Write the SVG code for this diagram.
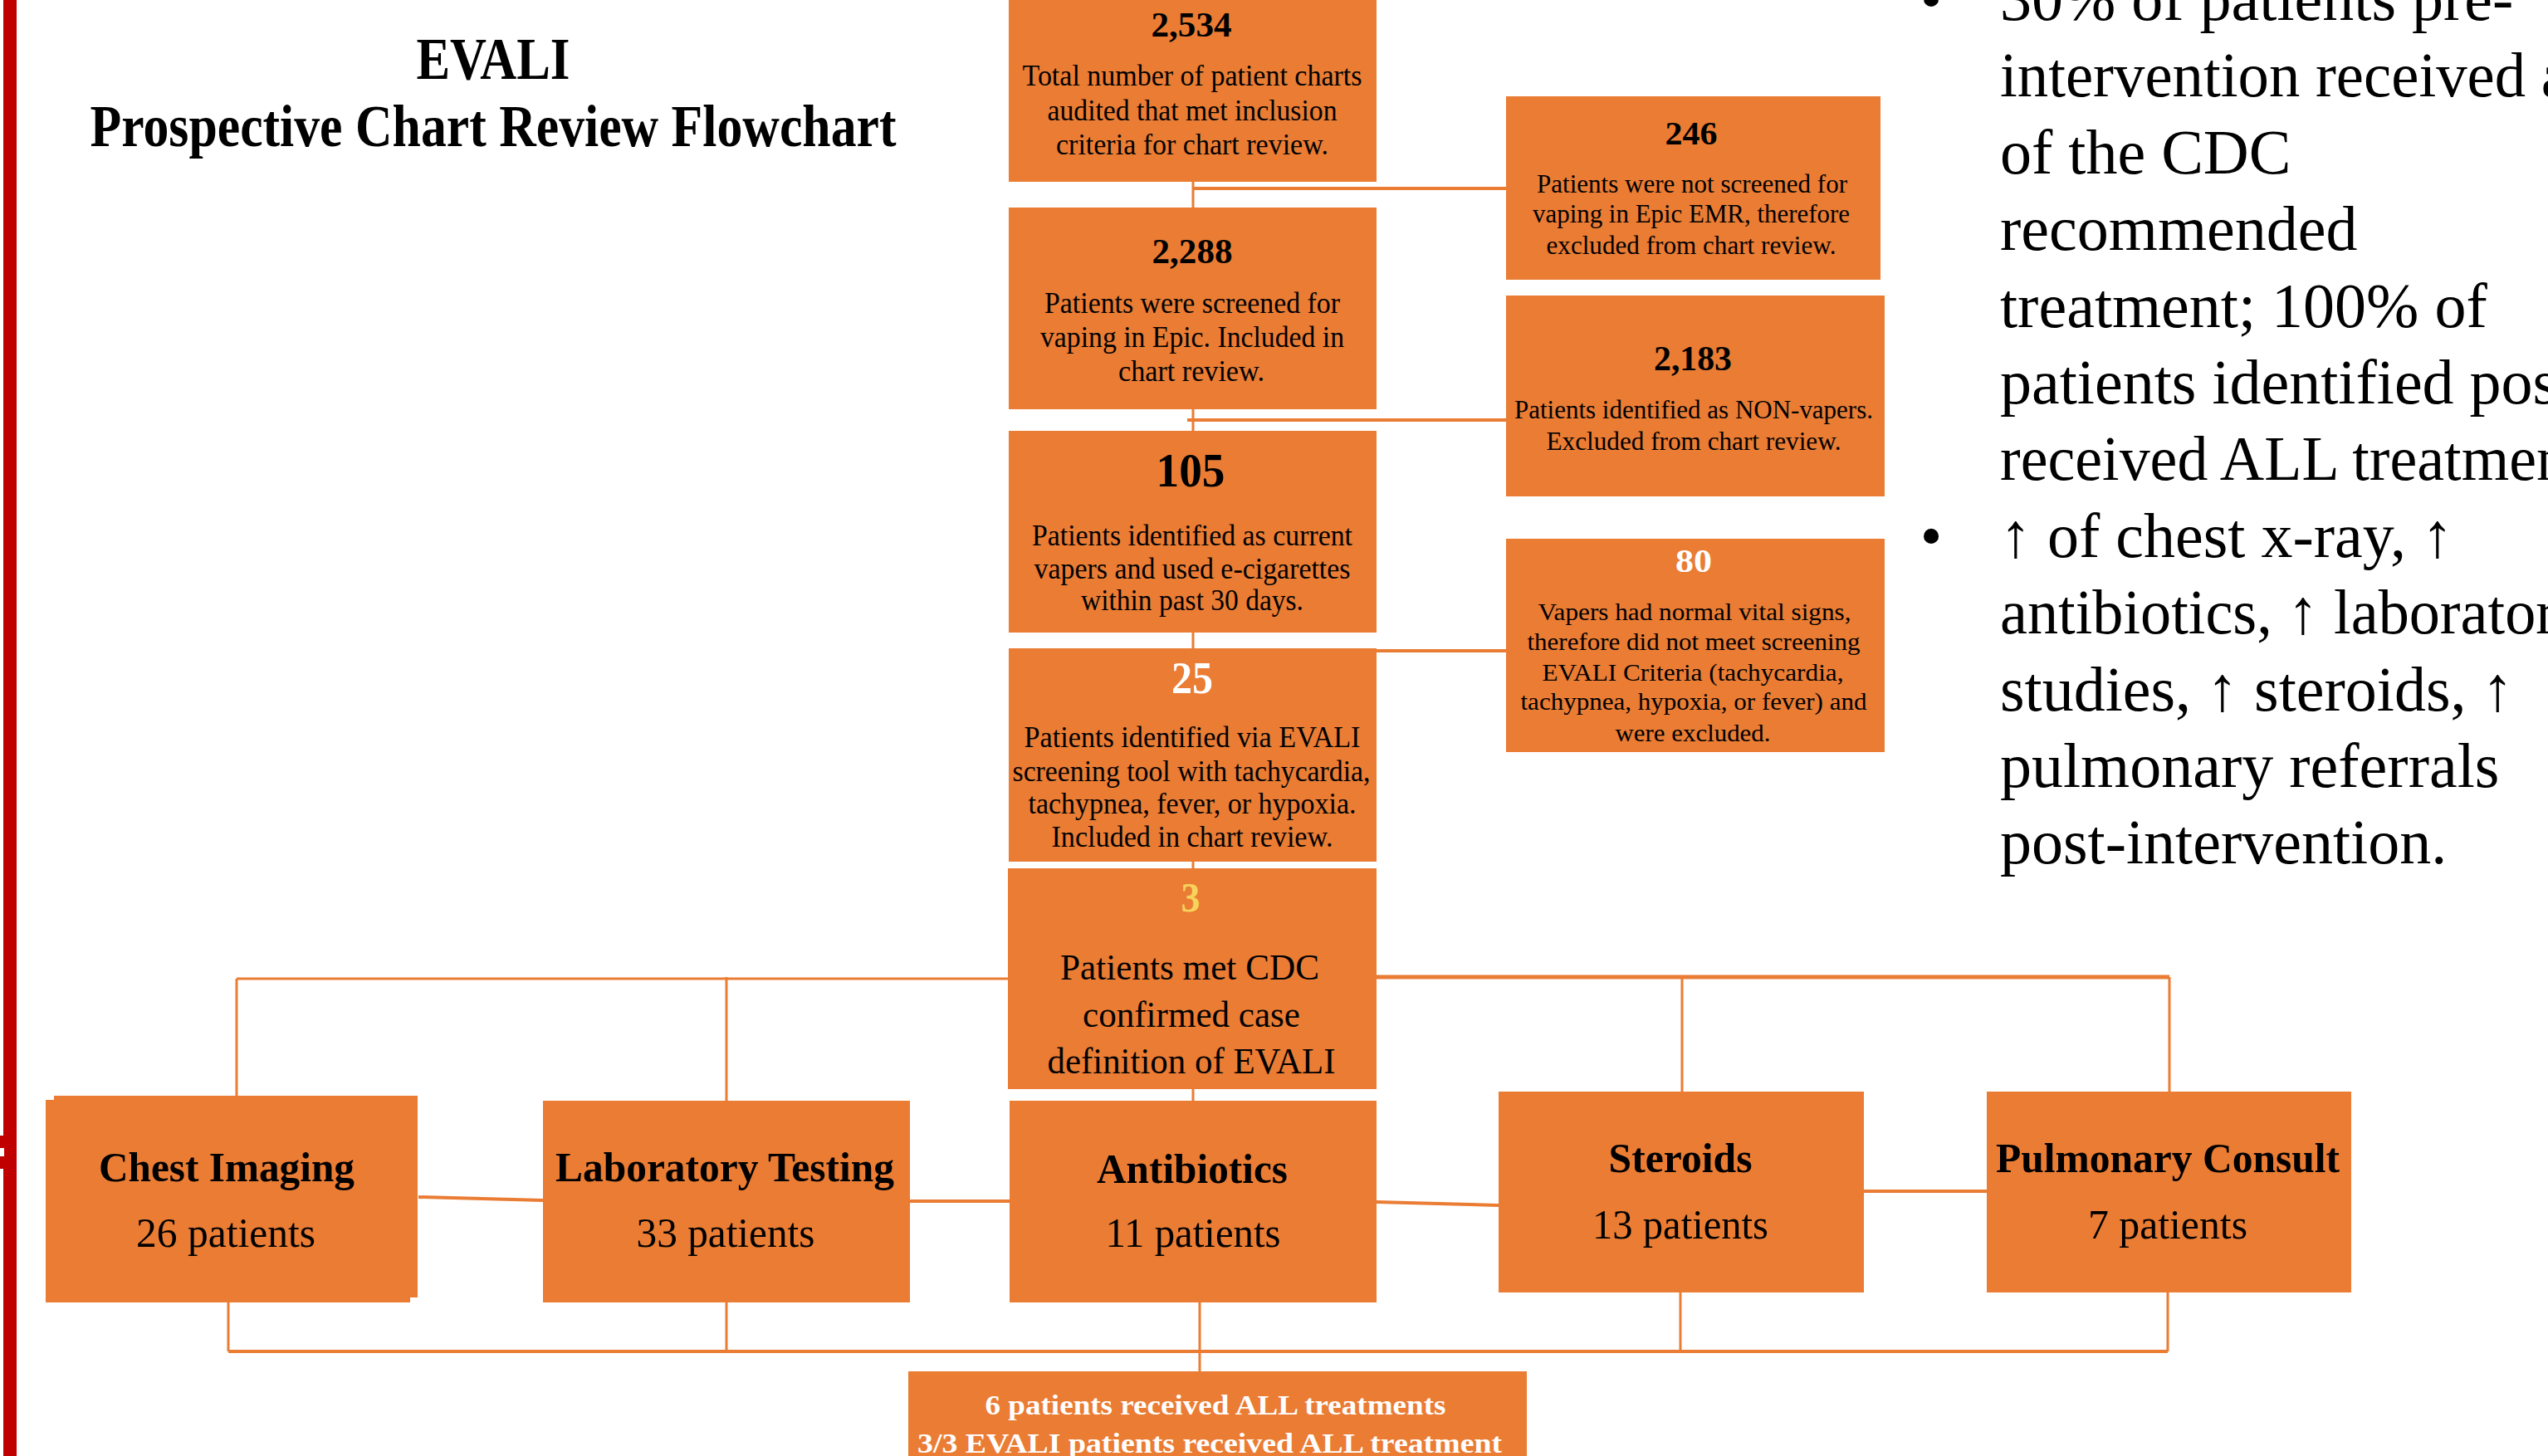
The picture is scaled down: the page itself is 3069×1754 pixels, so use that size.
<svg xmlns="http://www.w3.org/2000/svg" width="3069" height="1754" viewBox="0 0 3069 1754">
<style>
.box{fill:#EA7C34}
.t{font-family:"Liberation Serif","Times New Roman",serif;text-anchor:middle;fill:#000}
.b{font-weight:bold}
.w{fill:#fff}
.y{fill:#F6D35C}
.s31{font-size:31px}
.s29{font-size:29px}
.s35{font-size:35px}
.s44{font-size:44px}
.s50{font-size:50px}
.conn{stroke:#EA7C34;stroke-width:3;fill:none}
.side{font-family:"Liberation Serif","Times New Roman",serif;font-size:76px;fill:#000}
</style>
<rect width="3069" height="1754" fill="#fff"/>
<g id="frame">
<rect x="4" y="0" width="16" height="1754" fill="#C00000"/>
<rect x="0" y="1368" width="20" height="40" fill="#C00000"/>
<rect x="0" y="1383" width="5" height="10" fill="#fff"/>
</g>
<g id="title" class="t b">
<text x="594" y="95" font-size="72" textLength="185" lengthAdjust="spacingAndGlyphs">EVALI</text>
<text x="594" y="176" font-size="72" textLength="971" lengthAdjust="spacingAndGlyphs">Prospective Chart Review Flowchart</text>
</g>
<g id="connectors" class="conn">
<path d="M1437 219V250"/>
<path d="M1437 227H1814" stroke-width="4"/>
<path d="M1437 493V519"/>
<path d="M1430 506H1814" stroke-width="4"/>
<path d="M1437 762V781"/>
<path d="M1658 784H1814" stroke-width="4"/>
<path d="M1437 1038V1046"/>
<path d="M1437 1312V1326"/>
<path d="M285 1179H1214"/>
<path d="M1214 1177H2613" stroke-width="5"/>
<path d="M285 1179V1321"/>
<path d="M875 1177V1326"/>
<path d="M2026 1177V1315"/>
<path d="M2613 1177V1315"/>
<path d="M504 1442L654 1446" stroke-width="4"/>
<path d="M1096 1447H1216" stroke-width="4"/>
<path d="M1658 1448L1805 1452" stroke-width="4"/>
<path d="M2245 1435H2393" stroke-width="4"/>
<path d="M275 1628H2611" stroke-width="4"/>
<path d="M275 1569V1628"/>
<path d="M875 1569V1628"/>
<path d="M1445 1569V1652"/>
<path d="M2024 1557V1628"/>
<path d="M2611 1557V1628"/>
</g>
<g id="n2534">
<rect class="box" x="1215" y="0" width="443" height="219"/>
<text class="t b" x="1435" y="44" font-size="42" textLength="97" lengthAdjust="spacingAndGlyphs">2,534</text>
<text class="t s35" x="1436" y="103" textLength="409" lengthAdjust="spacingAndGlyphs">Total number of patient charts</text>
<text class="t s35" x="1436" y="145" textLength="349" lengthAdjust="spacingAndGlyphs">audited that met inclusion</text>
<text class="t s35" x="1436" y="186" textLength="328" lengthAdjust="spacingAndGlyphs">criteria for chart review.</text>
</g>
<g id="n246">
<rect class="box" x="1814" y="116" width="451" height="221"/>
<text class="t b" x="2037" y="174" font-size="40" textLength="63" lengthAdjust="spacingAndGlyphs">246</text>
<text class="t s31" x="2038" y="232" textLength="374" lengthAdjust="spacingAndGlyphs">Patients were not screened for</text>
<text class="t s31" x="2037" y="268" textLength="382" lengthAdjust="spacingAndGlyphs">vaping in Epic EMR, therefore</text>
<text class="t s31" x="2037" y="306" textLength="349" lengthAdjust="spacingAndGlyphs">excluded from chart review.</text>
</g>
<g id="n2288">
<rect class="box" x="1215" y="250" width="443" height="243"/>
<text class="t b" x="1436" y="317" font-size="42" textLength="97" lengthAdjust="spacingAndGlyphs">2,288</text>
<text class="t s35" x="1436" y="377" textLength="356" lengthAdjust="spacingAndGlyphs">Patients were screened for</text>
<text class="t s35" x="1436" y="418" textLength="366" lengthAdjust="spacingAndGlyphs">vaping in Epic. Included in</text>
<text class="t s35" x="1435" y="459" textLength="176" lengthAdjust="spacingAndGlyphs">chart review.</text>
</g>
<g id="n2183">
<rect class="box" x="1814" y="356" width="456" height="242"/>
<text class="t b" x="2039" y="446" font-size="42" textLength="94" lengthAdjust="spacingAndGlyphs">2,183</text>
<text class="t s31" x="2040" y="504" textLength="432" lengthAdjust="spacingAndGlyphs">Patients identified as NON-vapers.</text>
<text class="t s31" x="2040" y="542" textLength="355" lengthAdjust="spacingAndGlyphs">Excluded from chart review.</text>
</g>
<g id="n105">
<rect class="box" x="1215" y="519" width="443" height="243"/>
<text class="t b" x="1434" y="586" font-size="58" textLength="83" lengthAdjust="spacingAndGlyphs">105</text>
<text class="t s35" x="1436" y="657" textLength="386" lengthAdjust="spacingAndGlyphs">Patients identified as current</text>
<text class="t s35" x="1436" y="697" textLength="381" lengthAdjust="spacingAndGlyphs">vapers and used e-cigarettes</text>
<text class="t s35" x="1436" y="735" textLength="268" lengthAdjust="spacingAndGlyphs">within past 30 days.</text>
</g>
<g id="n25">
<rect class="box" x="1215" y="781" width="443" height="257"/>
<text class="t b w" x="1436" y="835" font-size="54" textLength="50" lengthAdjust="spacingAndGlyphs">25</text>
<text class="t s35" x="1436" y="900" textLength="405" lengthAdjust="spacingAndGlyphs">Patients identified via EVALI</text>
<text class="t s35" x="1435" y="941" textLength="431" lengthAdjust="spacingAndGlyphs">screening tool with tachycardia,</text>
<text class="t s35" x="1436" y="980" textLength="395" lengthAdjust="spacingAndGlyphs">tachypnea, fever, or hypoxia.</text>
<text class="t s35" x="1436" y="1020" textLength="339" lengthAdjust="spacingAndGlyphs">Included in chart review.</text>
</g>
<g id="n80">
<rect class="box" x="1814" y="649" width="456" height="257"/>
<text class="t b w" x="2040" y="689" font-size="40" textLength="44" lengthAdjust="spacingAndGlyphs">80</text>
<text class="t s29" x="2041" y="747" textLength="377" lengthAdjust="spacingAndGlyphs">Vapers had normal vital signs,</text>
<text class="t s29" x="2040" y="783" textLength="401" lengthAdjust="spacingAndGlyphs">therefore did not meet screening</text>
<text class="t s29" x="2039" y="820" textLength="363" lengthAdjust="spacingAndGlyphs">EVALI Criteria (tachycardia,</text>
<text class="t s29" x="2040" y="855" textLength="417" lengthAdjust="spacingAndGlyphs">tachypnea, hypoxia, or fever) and</text>
<text class="t s29" x="2039" y="893" textLength="187" lengthAdjust="spacingAndGlyphs">were excluded.</text>
</g>
<g id="n3">
<rect class="box" x="1214" y="1046" width="444" height="266"/>
<text class="t b y" x="1434" y="1098" font-size="50" textLength="23" lengthAdjust="spacingAndGlyphs">3</text>
<text class="t s44" x="1433" y="1180" textLength="312" lengthAdjust="spacingAndGlyphs">Patients met CDC</text>
<text class="t s44" x="1435" y="1237" textLength="262" lengthAdjust="spacingAndGlyphs">confirmed case</text>
<text class="t s44" x="1435" y="1293" textLength="347" lengthAdjust="spacingAndGlyphs">definition of EVALI</text>
</g>
<g id="chest">
<rect class="box" x="65" y="1320" width="438" height="243"/>
<rect class="box" x="55" y="1325" width="439" height="244"/>
<text class="t b s50" x="273" y="1423" textLength="308" lengthAdjust="spacingAndGlyphs">Chest Imaging</text>
<text class="t s50" x="272" y="1502" textLength="216" lengthAdjust="spacingAndGlyphs">26 patients</text>
</g>
<g id="lab">
<rect class="box" x="654" y="1326" width="442" height="243"/>
<text class="t b s50" x="873" y="1423" textLength="408" lengthAdjust="spacingAndGlyphs">Laboratory Testing</text>
<text class="t s50" x="874" y="1502" textLength="215" lengthAdjust="spacingAndGlyphs">33 patients</text>
</g>
<g id="antibiotics">
<rect class="box" x="1216" y="1326" width="442" height="243"/>
<text class="t b s50" x="1436" y="1425" textLength="230" lengthAdjust="spacingAndGlyphs">Antibiotics</text>
<text class="t s50" x="1437" y="1502" textLength="211" lengthAdjust="spacingAndGlyphs">11 patients</text>
</g>
<g id="steroids">
<rect class="box" x="1805" y="1315" width="440" height="242"/>
<text class="t b s50" x="2024" y="1412" textLength="173" lengthAdjust="spacingAndGlyphs">Steroids</text>
<text class="t s50" x="2024" y="1492" textLength="212" lengthAdjust="spacingAndGlyphs">13 patients</text>
</g>
<g id="pulmonary">
<rect class="box" x="2393" y="1315" width="439" height="242"/>
<text class="t b s50" x="2611" y="1412" textLength="414" lengthAdjust="spacingAndGlyphs">Pulmonary Consult</text>
<text class="t s50" x="2611" y="1492" textLength="192" lengthAdjust="spacingAndGlyphs">7 patients</text>
</g>
<g id="all-treatments">
<rect class="box" x="1094" y="1652" width="745" height="110"/>
<text class="t b w" x="1464" y="1704" font-size="34" textLength="555" lengthAdjust="spacingAndGlyphs">6 patients received ALL treatments</text>
<text class="t b w" x="1457" y="1750" font-size="34" textLength="704" lengthAdjust="spacingAndGlyphs">3/3 EVALI patients received ALL treatment</text>
</g>
<g id="notes" class="side">
<text x="2326" y="24" text-anchor="middle">•</text>
<text x="2409" y="24">30% of patients pre-</text>
<text x="2409" y="116" textLength="685" lengthAdjust="spacingAndGlyphs">intervention received a</text>
<text x="2409" y="209">of the CDC</text>
<text x="2409" y="301">recommended</text>
<text x="2409" y="394">treatment; 100% of</text>
<text x="2409" y="486">patients identified pos</text>
<text x="2409" y="578" textLength="683" lengthAdjust="spacingAndGlyphs">received ALL treatmen</text>
<text x="2326" y="671" text-anchor="middle">•</text>
<text x="2409" y="671">↑ of chest x-ray, ↑</text>
<text x="2409" y="763" textLength="670" lengthAdjust="spacingAndGlyphs">antibiotics, ↑ laborator</text>
<text x="2409" y="856">studies, ↑ steroids, ↑</text>
<text x="2409" y="948">pulmonary referrals</text>
<text x="2409" y="1040">post-intervention.</text>
</g>
</svg>
